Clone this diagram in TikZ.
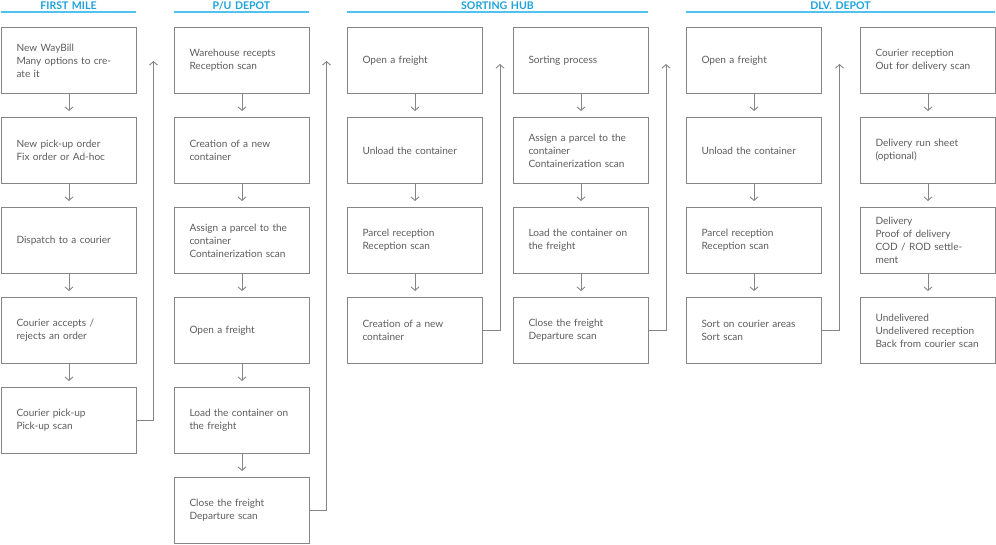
\documentclass[tikz,border=0pt]{standalone}
\usepackage{fontspec}
\setmainfont{Lato}
\usetikzlibrary{arrows.meta}

\definecolor{phaseblue}{HTML}{1BA1DC}
\definecolor{phaserule}{HTML}{4FC3EE}
\definecolor{boxgray}{HTML}{858585}
\definecolor{textgray}{HTML}{5C5C5C}

\tikzset{
  stage/.style={draw=boxgray, line width=1bp, anchor=north west,
    text width=105bp, inner xsep=15bp, inner ysep=0bp,
    minimum height=66bp, align=left, text=textgray,
    font=\fontsize{10.1}{12.9}\selectfont},
  phase/.style={anchor=south, text width=#1, inner xsep=0bp, inner ysep=2.5bp,
    text depth=0pt, align=center, text=phaseblue,
    font=\fontsize{10.6}{12}\selectfont\bfseries},
  phaserule/.style={draw=phaserule, line width=1.2bp},
  flow/.style={draw=boxgray, line width=0.9bp,
    -{Straight Barb[length=3.5bp,width=8bp]}},
  down/.style={flow, shorten >=6bp}
}

\begin{document}
\begin{tikzpicture}[x=1bp, y=-1bp]
  \useasboundingbox (0,0) rectangle (996,545);

  % headers
  \node[phase=135bp] (FirstMile) at (68.5,12) {FIRST MILE};
  \node[phase=135bp] (PUDepot) at (241.5,12) {P/U DEPOT};
  \node[phase=301bp] (SortingHub) at (497.5,12) {SORTING HUB};
  \node[phase=309bp] (DlvDepot) at (840.5,12) {DLV. DEPOT};
  \draw[phaserule] (FirstMile.south west) -- (FirstMile.south east);
  \draw[phaserule] (PUDepot.south west) -- (PUDepot.south east);
  \draw[phaserule] (SortingHub.south west) -- (SortingHub.south east);
  \draw[phaserule] (DlvDepot.south west) -- (DlvDepot.south east);

  % first mile
  \node[stage] (NewWayBill) at (1,27) {New WayBill\\Many options to cre-\\ate it};
  \node[stage] (PickupOrder) at (1,117) {New pick-up order\\Fix order or Ad-hoc};
  \node[stage] (Dispatch) at (1,207) {Dispatch to a courier};
  \node[stage] (CourierAccepts) at (1,297) {Courier accepts /\\rejects an order};
  \node[stage] (CourierPickup) at (1,387) {Courier pick-up\\Pick-up scan};

  % p/u depot
  \node[stage] (WarehouseRecepts) at (174,27) {Warehouse recepts\\Reception scan};
  \node[stage] (PUNewContainer) at (174,117) {Creation of a new\\container};
  \node[stage] (PUAssignParcel) at (174,207) {Assign a parcel to the\\container\\Containerization scan};
  \node[stage] (PUOpenFreight) at (174,297) {Open a freight};
  \node[stage] (PULoadContainer) at (174,387) {Load the container on\\the freight};
  \node[stage] (PUCloseFreight) at (174,477) {Close the freight\\Departure scan};

  % sorting hub
  \node[stage] (HubOpenFreight) at (347,27) {Open a freight};
  \node[stage] (HubUnload) at (347,117) {Unload the container};
  \node[stage] (HubParcelReception) at (347,207) {Parcel reception\\Reception scan};
  \node[stage] (HubNewContainer) at (347,297) {Creation of a new\\container};
  \node[stage] (SortingProcess) at (513,27) {Sorting process};
  \node[stage] (HubAssignParcel) at (513,117) {Assign a parcel to the\\container\\Containerization scan};
  \node[stage] (HubLoadContainer) at (513,207) {Load the container on\\the freight};
  \node[stage] (HubCloseFreight) at (513,297) {Close the freight\\Departure scan};

  % dlv. depot
  \node[stage] (DlvOpenFreight) at (686,27) {Open a freight};
  \node[stage] (DlvUnload) at (686,117) {Unload the container};
  \node[stage] (DlvParcelReception) at (686,207) {Parcel reception\\Reception scan};
  \node[stage] (SortCourierAreas) at (686,297) {Sort on courier areas\\Sort scan};
  \node[stage] (CourierReception) at (860,27) {Courier reception\\Out for delivery scan};
  \node[stage] (RunSheet) at (860,117) {Delivery run sheet\\(optional)};
  \node[stage] (Delivery) at (860,207) {Delivery\\Proof of delivery\\COD / ROD settle-\\ment};
  \node[stage] (Undelivered) at (860,297) {Undelivered\\Undelivered reception\\Back from courier scan};

  % risers between the columns
  \coordinate (RiseA) at (153.5,61);
  \coordinate (RiseB) at (326.5,61);
  \coordinate (RiseC) at (500,64);
  \coordinate (RiseD) at (666,64);
  \coordinate (RiseE) at (839.5,64);

  \draw[down] (NewWayBill) -- (PickupOrder);
  \draw[down] (PickupOrder) -- (Dispatch);
  \draw[down] (Dispatch) -- (CourierAccepts);
  \draw[down] (CourierAccepts) -- (CourierPickup);
  \draw[flow] (CourierPickup.east) -| (RiseA);

  \draw[down] (WarehouseRecepts) -- (PUNewContainer);
  \draw[down] (PUNewContainer) -- (PUAssignParcel);
  \draw[down] (PUAssignParcel) -- (PUOpenFreight);
  \draw[down] (PUOpenFreight) -- (PULoadContainer);
  \draw[down] (PULoadContainer) -- (PUCloseFreight);
  \draw[flow] (PUCloseFreight.east) -| (RiseB);

  \draw[down] (HubOpenFreight) -- (HubUnload);
  \draw[down] (HubUnload) -- (HubParcelReception);
  \draw[down] (HubParcelReception) -- (HubNewContainer);
  \draw[flow] (HubNewContainer.east) -| (RiseC);
  \draw[down] (SortingProcess) -- (HubAssignParcel);
  \draw[down] (HubAssignParcel) -- (HubLoadContainer);
  \draw[down] (HubLoadContainer) -- (HubCloseFreight);
  \draw[flow] (HubCloseFreight.east) -| (RiseD);

  \draw[down] (DlvOpenFreight) -- (DlvUnload);
  \draw[down] (DlvUnload) -- (DlvParcelReception);
  \draw[down] (DlvParcelReception) -- (SortCourierAreas);
  \draw[flow] (SortCourierAreas.east) -| (RiseE);
  \draw[down] (CourierReception) -- (RunSheet);
  \draw[down] (RunSheet) -- (Delivery);
  \draw[down] (Delivery) -- (Undelivered);
\end{tikzpicture}
\end{document}
